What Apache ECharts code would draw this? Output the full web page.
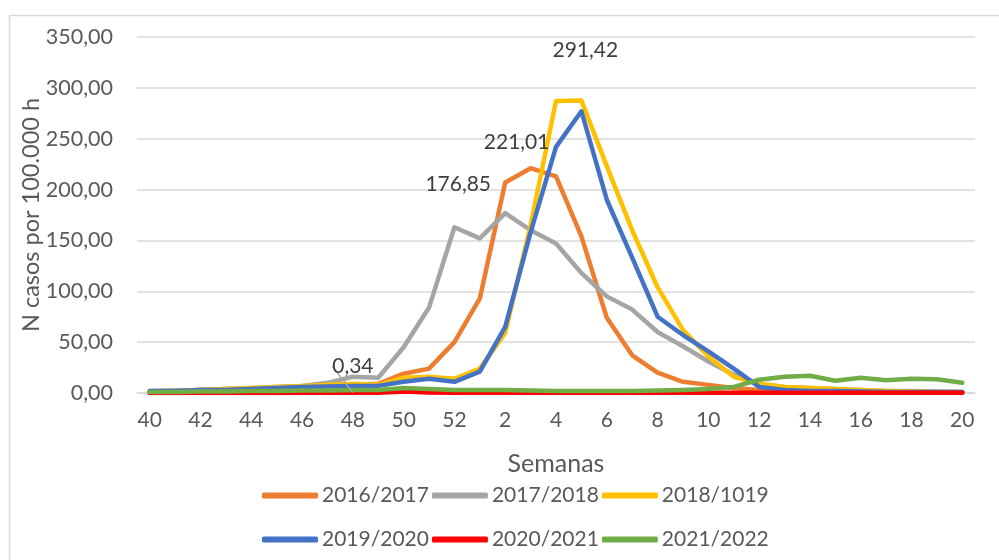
<!DOCTYPE html>
<html>
<head>
<meta charset="utf-8">
<script src="https://cdn.jsdelivr.net/npm/echarts@6/dist/echarts.min.js"></script>
<style>
html,body{margin:0;padding:0;background:#fff;}
#chart{width:999px;height:560px;}
</style>
</head>
<body>
<div id="chart"></div>
<script>
const weeks = ['40','41','42','43','44','45','46','47','48','49','50','51','52','1','2','3','4','5','6','7','8','9','10','11','12','13','14','15','16','17','18','19','20'];
const s2016 = [1,2,3,4,4.5,5,6,7,8,9,19,24,50,93,207,221.01,213,154,74,37,20,11,8,5,3,2,1.5,1,1,0.5,0.5,0.5,0.5];
const s2017 = [2,2.5,3,4,5,6,7,10,16,15,45,84,163,152,176.85,160,147,118,95,82,60,46,31,18,9,6,5,4,3,2,2,1.5,1];
const s2018 = [1.5,2,3,4,5,6,7,8,9,8,15,16,14,24,59,165,287,287.5,223,160,104,62,36,16,9,6,5,4,3,2,1.5,1,1];
const s2019 = [2,2,3,3,4,5,6,6.5,7,7,11,14,11,21,65,158,242,277,190,133,75,57,41,24,6,3,2,2,1.5,1,1,1,1];
const s2020 = [0.1,0.1,0.1,0.1,0.1,0.1,0.2,0.2,0.34,0.3,1.5,0.5,0.3,0.2,0.2,0.2,0.2,0.2,0.2,0.2,0.2,0.2,0.2,0.3,0.3,0.3,0.3,0.3,0.3,0.3,0.3,0.3,0.3];
const s2021 = [1,1,1.5,1.5,2,2,2.5,2.5,3,3,5,4,3,3,3,2.5,2,2,2,2,2.5,3,4,6,13,16,17,12,15,12.5,14,13.5,10];
const seriesNames = ['2016/2017','2017/2018','2018/1019','2019/2020','2020/2021','2021/2022'];
const yTicks = [0,50,100,150,200,250,300,350];
const peakLabels = [
  {series:'2017/2018', week:'2', text:'176,85'},
  {series:'2016/2017', week:'3', text:'221,01'},
  {series:'2018/1019', week:'5', text:'291,42'},
  {series:'2020/2021', week:'48', text:'0,34'}
];

const colors = ['#ED7D31','#A5A5A5','#FFC000','#4472C4','#FF0000','#70AD47'];
const values = [s2016,s2017,s2018,s2019,s2020,s2021];
const FONT = 'Lato';
const TXT = '#595959';
const labelStyle = {
  '2017/2018': {offset:[-47,-13]},
  '2016/2017': {offset:[-14,-10]},
  '2018/1019': {offset:[4,-35]},
  '2020/2021': {offset:[2,0]}
};

const chart = echarts.init(document.getElementById('chart'));
const series = seriesNames.map((name, si) => {
  const data = values[si].map((v, i) => {
    const pl = peakLabels.find(p => p.series === name && p.week === weeks[i]);
    if (!pl) return v;
    return {
      value: v,
      label: {
        show: true,
        position: 'top',
        offset: labelStyle[name].offset,
        formatter: pl.text,
        fontFamily: FONT,
        fontSize: 21,
        color: '#404040'
      }
    };
  });
  const s = {
    name: name,
    type: 'line',
    data: data,
    symbol: 'circle',
    symbolSize: 0,
    showSymbol: true,
    showAllSymbol: true,
    itemStyle: {color: colors[si]},
    lineStyle: {color: colors[si], width: 4.5, join: 'round', cap: 'round'},
    emphasis: {disabled: true},
    animation: false
  };
  if (name === '2020/2021') {
    s.labelLayout = {dy: -11};
    s.labelLine = {show: true, lineStyle: {color: '#A5A5A5', width: 1.5}, length2: 0};
  }
  return s;
});

const legendText = {fontFamily: FONT, fontSize: 21, color: TXT, padding: [0,0,0,-1]};
chart.setOption({
  backgroundColor: '#ffffff',
  animation: false,
  graphic: [{
    type: 'rect',
    shape: {x: 9.5, y: 15.5, width: 1100, height: 700},
    style: {fill: 'none', stroke: '#D9D9D9', lineWidth: 1.5},
    silent: true
  }],
  grid: {left: 137, right: 24, top: 37, bottom: 167, containLabel: false},
  legend: [
    {data: seriesNames.slice(0,3), top: 480, left: 257, itemWidth: 56, itemHeight: 6, itemGap: 3,
     icon: 'roundRect', textStyle: legendText, selectedMode: false},
    {data: seriesNames.slice(3,6), top: 524, left: 257, itemWidth: 56, itemHeight: 6, itemGap: 3,
     icon: 'roundRect', textStyle: legendText, selectedMode: false}
  ],
  xAxis: {
    type: 'category',
    data: weeks,
    boundaryGap: true,
    name: 'Semanas',
    nameLocation: 'middle',
    nameGap: 58,
    nameMoveOverlap: false,
    nameTextStyle: {fontFamily: FONT, fontSize: 25, color: TXT},
    axisLine: {show: true, lineStyle: {color: '#D9D9D9', width: 1.5}},
    axisTick: {show: false},
    axisLabel: {interval: 1, margin: 17, fontFamily: FONT, fontSize: 21, color: TXT},
    splitLine: {show: false}
  },
  yAxis: {
    type: 'value',
    min: yTicks[0],
    max: yTicks[yTicks.length-1],
    interval: yTicks[1] - yTicks[0],
    name: 'N casos por 100.000 h',
    nameLocation: 'middle',
    nameGap: 94,
    nameMoveOverlap: false,
    nameRotate: 90,
    nameTextStyle: {fontFamily: FONT, fontSize: 23.5, color: TXT},
    axisLine: {show: false},
    axisTick: {show: false},
    axisLabel: {margin: 24, fontFamily: FONT, fontSize: 21.5, color: TXT,
      formatter: v => v.toFixed(2).replace('.', ',')},
    splitLine: {lineStyle: {color: '#D9D9D9', width: 1.5}}
  },
  series: series
});
</script>
</body>
</html>
